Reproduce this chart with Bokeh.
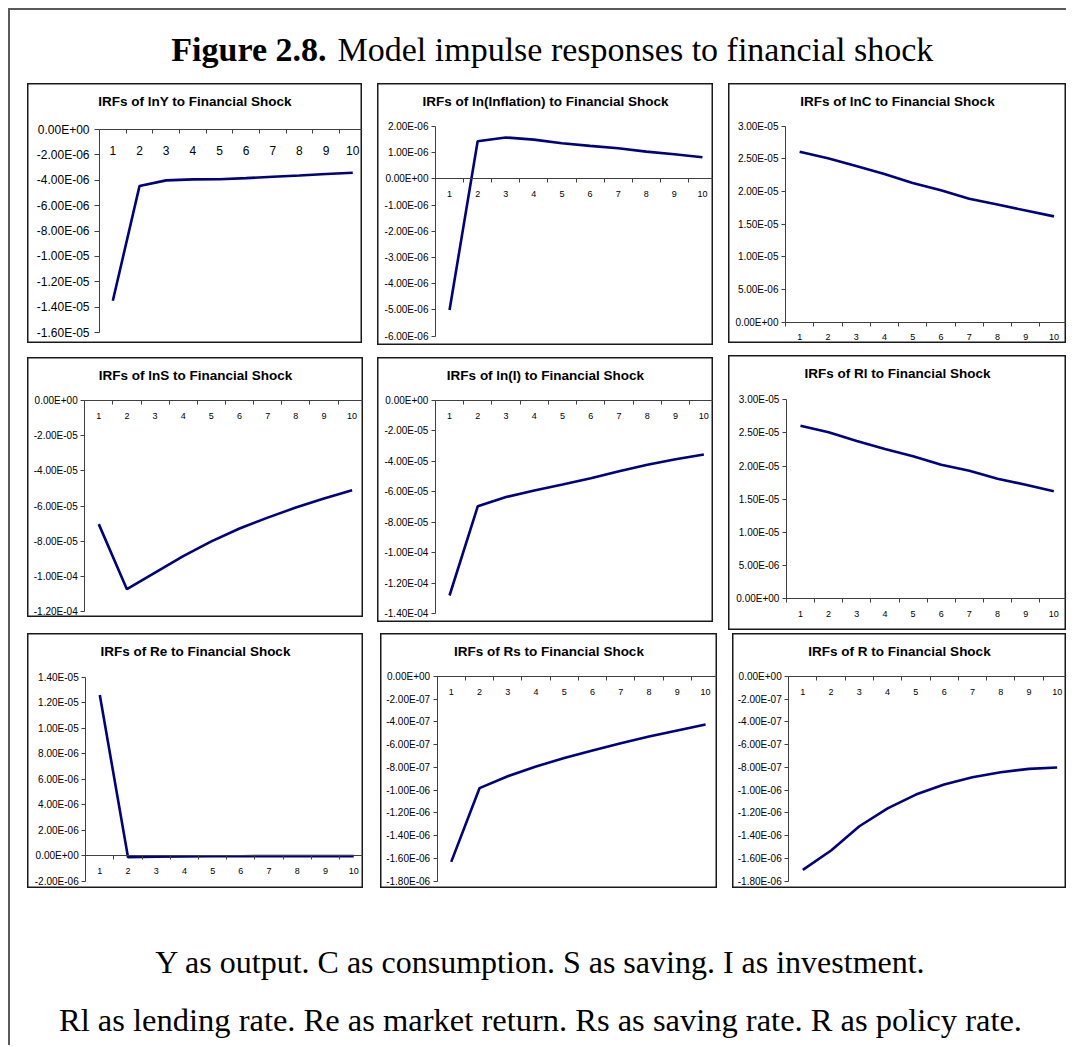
from bokeh.plotting import figure
from bokeh.models import Range1d, Label, FixedTicker, CustomJSTickFormatter
from bokeh.layouts import row, column
from bokeh.embed import file_html
from bokeh.resources import INLINE

# ---------------- data ----------------
periods = [1, 2, 3, 4, 5, 6, 7, 8, 9, 10]
x_tick_labels = ["1", "2", "3", "4", "5", "6", "7", "8", "9", "10"]

irf_lnY = [-1.35e-5, -4.46e-6, -4.01e-6, -3.93e-6, -3.92e-6, -3.83e-6, -3.72e-6, -3.62e-6, -3.51e-6, -3.41e-6]
irf_infl = [-5.0e-6, 1.44e-6, 1.58e-6, 1.50e-6, 1.36e-6, 1.26e-6, 1.17e-6, 1.04e-6, 0.94e-6, 0.83e-6]
irf_lnC = [2.61e-5, 2.51e-5, 2.39e-5, 2.27e-5, 2.13e-5, 2.02e-5, 1.89e-5, 1.80e-5, 1.71e-5, 1.62e-5]
irf_lnS = [-7.03e-5, -1.073e-4, -9.79e-5, -8.85e-5, -8.01e-5, -7.28e-5, -6.66e-5, -6.09e-5, -5.57e-5, -5.10e-5]
irf_lnI = [-1.28e-4, -6.94e-5, -6.34e-5, -5.91e-5, -5.51e-5, -5.10e-5, -4.64e-5, -4.22e-5, -3.85e-5, -3.54e-5]
irf_Rl = [2.61e-5, 2.51e-5, 2.38e-5, 2.26e-5, 2.15e-5, 2.02e-5, 1.93e-5, 1.81e-5, 1.72e-5, 1.62e-5]
irf_Re = [1.26e-5, -1.0e-7, -5e-8, -3e-8, -2e-8, -2e-8, -1e-8, -1e-8, -1e-8, -1e-8]
irf_Rs = [-1.63e-6, -9.82e-7, -8.77e-7, -7.92e-7, -7.16e-7, -6.51e-7, -5.87e-7, -5.28e-7, -4.75e-7, -4.22e-7]
irf_R = [-1.70e-6, -1.53e-6, -1.317e-6, -1.16e-6, -1.038e-6, -9.5e-7, -8.86e-7, -8.42e-7, -8.12e-7, -8.0e-7]

series = [irf_lnY, irf_infl, irf_lnC, irf_lnS, irf_lnI, irf_Rl, irf_Re, irf_Rs, irf_R]

titles = [
    "IRFs of lnY to Financial Shock",
    "IRFs of ln(Inflation) to Financial Shock",
    "IRFs of lnC to Financial Shock",
    "IRFs of lnS to Financial Shock",
    "IRFs of ln(I) to Financial Shock",
    "IRFs of Rl to Financial Shock",
    "IRFs of Re to Financial Shock",
    "IRFs of Rs to Financial Shock",
    "IRFs of R to Financial Shock",
]

y_axis_top = [0.0, 2e-6, 3e-5, 0.0, 0.0, 3e-5, 1.4e-5, 0.0, 0.0]
y_axis_bottom = [-1.6e-5, -6e-6, 0.0, -1.2e-4, -1.4e-4, 0.0, -2e-6, -1.8e-6, -1.8e-6]
y_axis_step = [2e-6, 1e-6, 5e-6, 2e-5, 2e-5, 5e-6, 2e-6, 2e-7, 2e-7]

fig_title_bold = "Figure 2.8."
fig_title_rest = "Model impulse responses to financial shock"
caption_lines = [
    "Y as output. C as consumption. S as saving. I as investment.",
    "Rl as lending rate. Re as market return. Rs as saving rate. R as policy rate.",
]

# ---------------- layout (page pixel coordinates) ----------------
PAGE_MARGIN = 8
FRAME_W = 2
ORIGIN = PAGE_MARGIN + FRAME_W
boxes = [
    (27, 83, 335, 260), (377, 83, 336, 262), (728, 83, 338, 260),
    (27, 357, 336, 260), (377, 357, 336, 265), (728, 355, 338, 275),
    (27, 633, 336, 255), (380, 633, 337, 255), (732, 633, 334, 255),
]
xaxis_px = [(99, 365.6), (435, 716), (785, 1067.6),
            (84.2, 365.7), (434.9, 717.5), (785.9, 1067.4),
            (85.2, 367.3), (436.6, 719.2), (788.2, 1070.8)]
yaxis_px = [(129, 332), (126, 335.7), (125.7, 321.7),
            (400, 611), (400, 613.3), (399.3, 598.3),
            (676.7, 881), (676, 880.7), (676, 880.7)]
row_tops = [83, 355, 633, 888]
TITLE_SHIFT = 0.30    # em; Label alphabetic baseline correction (title)
CAPTION_SHIFT = 0.10  # em; Label alphabetic baseline correction (caption)

FONT = "Liberation Sans"
SERIF = "Liberation Serif"
LINE_COLOR = "#000080"

fmt_code = """
if (Math.abs(tick) < 1e-15) { return "0.00E+00"; }
const s = tick.toExponential(2);
const parts = s.split("e");
const sign = parts[1][0];
let d = parts[1].slice(1);
if (d.length < 2) { d = "0" + d; }
return parts[0] + "E" + sign + d;
"""


def make_panel(i, margin):
    left, top, w, h = boxes[i]
    x05, x105 = xaxis_px[i]
    ytp, ybp = yaxis_px[i]
    yt, yb, step = y_axis_top[i], y_axis_bottom[i], y_axis_step[i]
    sx = (x105 - x05) / 10.0
    x_start = 0.5 - (x05 - left) / sx
    x_end = 0.5 + (left + w - x05) / sx
    sy = (ybp - ytp) / (yt - yb)
    y_end = yt + (ytp - top) / sy
    y_start = yt - (top + h - ytp) / sy

    big = (i == 0)
    p = figure(width=w, height=h, x_range=Range1d(x_start, x_end),
               y_range=Range1d(y_start, y_end), toolbar_location=None,
               output_backend="svg", min_border=0, title=None, margin=margin)
    p.outline_line_color = "#1a1a1a"
    p.outline_line_width = 2
    p.background_fill_color = "white"
    p.border_fill_color = "white"
    p.grid.visible = False

    p.line(periods, series[i], line_color=LINE_COLOR, line_width=2.6)

    n = int(round((yt - yb) / step))
    yticks = [round(yb + k * step, 12) for k in range(n + 1)]

    xa = p.xaxis[0]
    xa.fixed_location = 0
    xa.bounds = (0.5, 10.5)
    xa.ticker = FixedTicker(ticks=periods, minor_ticks=[k + 0.5 for k in range(0, 11)])
    xa.major_label_overrides = {pp: lab for pp, lab in zip(periods, x_tick_labels)}
    xa.major_tick_line_color = None
    xa.major_tick_out = 0
    xa.major_tick_in = 0
    xa.minor_tick_out = 4
    xa.minor_tick_in = 0
    xa.minor_tick_line_color = "#404040"
    xa.axis_line_color = "#404040"
    xa.axis_line_width = 1
    xa.major_label_text_font = FONT
    xa.major_label_text_font_size = "12px" if big else "9px"
    xa.major_label_text_color = "black"
    xa.major_label_standoff = 12 if big else 8

    ya = p.yaxis[0]
    ya.fixed_location = 0.5
    ya.bounds = (yb, yt)
    ya.ticker = FixedTicker(ticks=yticks, minor_ticks=[])
    ya.formatter = CustomJSTickFormatter(code=fmt_code)
    ya.major_tick_out = 5 if big else 4
    ya.major_tick_in = 0
    ya.minor_tick_line_color = None
    ya.major_tick_line_color = "#404040"
    ya.axis_line_color = "#404040"
    ya.axis_line_width = 1
    ya.major_label_text_font = FONT
    ya.major_label_text_font_size = "12px" if big else "10px"
    ya.major_label_text_color = "black"
    ya.major_label_standoff = 5 if big else 3

    p.add_layout(Label(x=(x_start + x_end) / 2.0, y=y_end - 17.5 / sy, text=titles[i],
                       text_font=FONT, text_font_style="bold", text_font_size="13.5px",
                       text_align="center", text_baseline="middle", text_color="black"))
    return p


rows = []
for r in range(3):
    kids = []
    prev_right = ORIGIN
    for c in range(3):
        i = r * 3 + c
        left, top, w, h = boxes[i]
        mt = top - row_tops[r]
        mb = row_tops[r + 1] - (top + h)
        ml = left - prev_right
        kids.append(make_panel(i, (mt, 0, mb, ml)))
        prev_right = left + w
    rows.append(row(kids, spacing=0))

W = 1054
# Title figure
TH = row_tops[0] - ORIGIN
tf = figure(width=W, height=TH, x_range=Range1d(0, W), y_range=Range1d(TH, 0),
            toolbar_location=None, output_backend="svg", min_border=0, title=None,
            x_axis_location=None, y_axis_location=None, outline_line_color=None)
tf.grid.visible = False
TFS = 34
ty = 59 - ORIGIN - TITLE_SHIFT * TFS
tf.add_layout(Label(x=326 - ORIGIN, y=ty, text=fig_title_bold, text_font=SERIF,
                    text_font_style="bold", text_font_size=f"{TFS}px", text_align="right",
                    text_baseline="alphabetic", text_color="black"))
tf.add_layout(Label(x=337 - ORIGIN, y=ty, text=fig_title_rest, text_font=SERIF,
                    text_font_size=f"{TFS}px", text_align="left",
                    text_baseline="alphabetic", text_color="black"))

# Caption figure
CH = 1045 - row_tops[3]
cf = figure(width=W, height=CH, x_range=Range1d(0, W), y_range=Range1d(CH, 0),
            toolbar_location=None, output_backend="svg", min_border=0, title=None,
            x_axis_location=None, y_axis_location=None, outline_line_color=None)
cf.grid.visible = False
for txt, base, fs in zip(caption_lines, [965, 1023], [32, 32.5]):
    cf.add_layout(Label(x=540 - ORIGIN, y=base - row_tops[3] - CAPTION_SHIFT * fs, text=txt,
                        text_font=SERIF, text_font_size=f"{fs}px", text_align="center",
                        text_baseline="alphabetic", text_color="black"))

page = column([tf] + rows + [cf], spacing=0,
              margin=(PAGE_MARGIN, 0, 0, PAGE_MARGIN),
              styles={"border-top": f"{FRAME_W}px solid #5a5a5a",
                      "border-left": f"{FRAME_W}px solid #5a5a5a"})

open("out.html", "w").write(file_html(page, INLINE))
